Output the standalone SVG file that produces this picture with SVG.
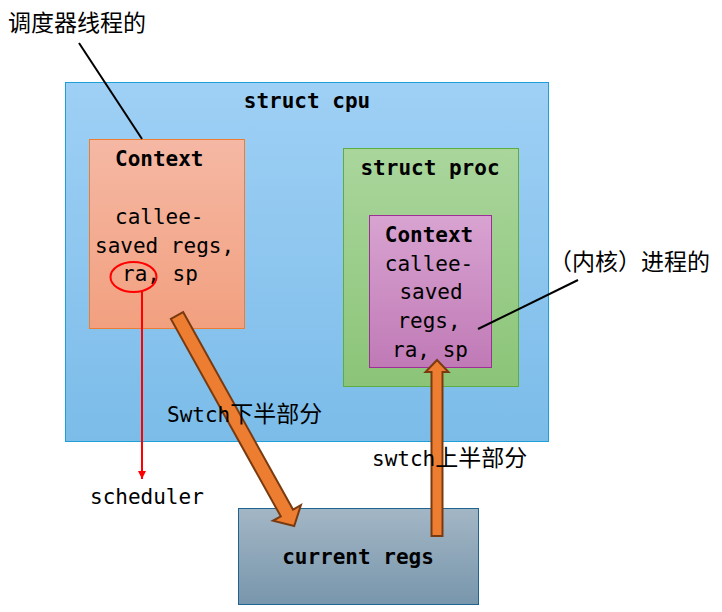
<svg xmlns="http://www.w3.org/2000/svg" width="722" height="612" viewBox="0 0 722 612">
<defs>
<linearGradient id="gCpu" x1="0" y1="0" x2="0" y2="1"><stop offset="0" stop-color="#9fd0f5"/><stop offset="1" stop-color="#7bbce9"/></linearGradient>
<linearGradient id="gCtx" x1="0" y1="0" x2="0" y2="1"><stop offset="0" stop-color="#f5b8a4"/><stop offset="1" stop-color="#f2a07f"/></linearGradient>
<linearGradient id="gProc" x1="0" y1="0" x2="0" y2="1"><stop offset="0" stop-color="#aad69c"/><stop offset="1" stop-color="#8bc478"/></linearGradient>
<linearGradient id="gPur" x1="0" y1="0" x2="0" y2="1"><stop offset="0" stop-color="#d8a3d1"/><stop offset="1" stop-color="#c07ab6"/></linearGradient>
<linearGradient id="gReg" x1="0" y1="0" x2="0" y2="1"><stop offset="0" stop-color="#a3b6c5"/><stop offset="1" stop-color="#7896ac"/></linearGradient>
<marker id="redHead" markerWidth="8" markerHeight="8" refX="8" refY="4" orient="auto" markerUnits="userSpaceOnUse"><path d="M0,0 L8,4 L0,8 Z" fill="#ff0000"/></marker>
</defs>
<style>
.mono{font-family:"DejaVu Sans Mono","Liberation Mono",monospace;font-size:21px;fill:#000}
.b{font-weight:bold}
.cjk{font-family:"Noto Sans CJK SC","Noto Sans",sans-serif;font-size:23px;fill:#000}
.mid{text-anchor:middle}
.lead{stroke:#000;stroke-width:2;fill:none}
.fat{fill:#ed7d31;stroke:#7a3a10;stroke-width:2;stroke-linejoin:miter}
</style>
<rect width="722" height="612" fill="#ffffff"/>

<g id="cpu">
<rect x="65.5" y="82.5" width="483" height="359" fill="url(#gCpu)" stroke="#1e9fd9" stroke-width="1"/>
<text class="mono b mid" x="307" y="108">struct cpu</text>
</g>

<g id="sched-context">
<rect x="89.5" y="139.5" width="155" height="189" fill="url(#gCtx)" stroke="#ed7d31" stroke-width="1"/>
<text class="mono b" x="115" y="166">Context</text>
<text class="mono" x="115" y="224">callee-</text>
<text class="mono" x="95" y="253">saved regs,</text>
<text class="mono" x="122" y="281">ra, sp</text>
</g>

<g id="proc">
<rect x="343.5" y="148.5" width="175" height="238" fill="url(#gProc)" stroke="#5cae40" stroke-width="1"/>
<text class="mono b mid" x="430" y="175">struct proc</text>
</g>

<g id="proc-context">
<rect x="369.5" y="215.5" width="122" height="152" fill="url(#gPur)" stroke="#9e2f97" stroke-width="1"/>
<text class="mono b mid" x="429" y="242">Context</text>
<text class="mono mid" x="429" y="271">callee-</text>
<text class="mono mid" x="431" y="299">saved</text>
<text class="mono mid" x="429" y="328">regs,</text>
<text class="mono mid" x="430" y="357">ra, sp</text>
</g>

<g id="current-regs">
<rect x="238.5" y="508.5" width="240" height="96" fill="url(#gReg)" stroke="#1f6390" stroke-width="1"/>
<text class="mono b mid" x="358" y="564">current regs</text>
</g>

<g id="connectors">
<line class="lead" x1="79" y1="43" x2="142" y2="139"/>
<line class="lead" x1="478" y1="329" x2="578" y2="280"/>
<ellipse cx="133.5" cy="277" rx="23" ry="15" fill="none" stroke="#ff0000" stroke-width="2"/>
<line x1="142" y1="292" x2="142" y2="479" stroke="#ff0000" stroke-width="2" marker-end="url(#redHead)"/>
<g transform="translate(177,315.5) rotate(60.9)">
<path class="fat" d="M0,-7 H226 V-16 L241,0 L226,16 V7 H0 Z"/>
</g>
<path class="fat" d="M431.5,536 V372 H425.5 L437,360 L448.5,372 H442.5 V536 Z"/>
</g>

<g id="label-sched">
<text class="cjk" x="8" y="31">调度器线程的</text>
</g>
<g id="label-proc">
<text class="cjk" x="549" y="270">（内核）进程的</text>
</g>
<g id="label-scheduler">
<text class="mono" x="90" y="504">scheduler</text>
</g>
<g id="label-swtch-lower">
<text x="167" y="422"><tspan class="mono">Swtch</tspan><tspan class="cjk" font-size="24">下半部分</tspan></text>
</g>
<g id="label-swtch-upper">
<text x="372" y="466"><tspan class="mono">swtch</tspan><tspan class="cjk" font-size="24">上半部分</tspan></text>
</g>
</svg>
